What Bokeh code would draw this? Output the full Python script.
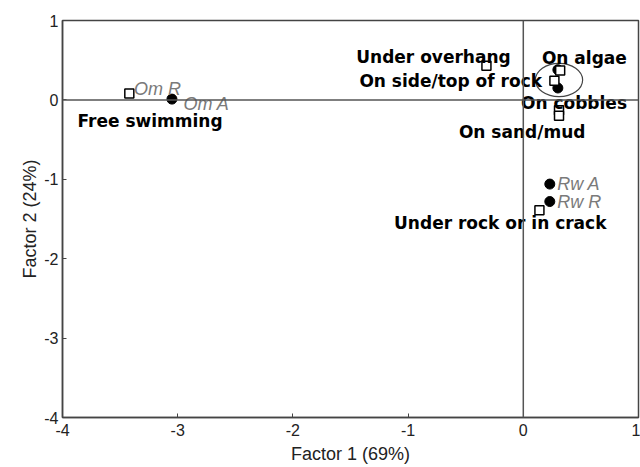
from bokeh.plotting import figure
from bokeh.models import Span, FixedTicker, ColumnDataSource
from bokeh.embed import file_html
from bokeh.resources import INLINE
from bokeh.core.properties import value

# Habitat categories (open squares)
habitats = ["Free swimming", "Under overhang", "On algae", "On side/top of rock",
            "On cobbles", "On sand/mud", "Under rock or in crack"]
hab_x = [-3.42, -0.32, 0.32, 0.27, 0.31, 0.31, 0.14]
hab_y = [0.08, 0.43, 0.37, 0.24, -0.13, -0.20, -1.39]

# Habitat label anchors (centre of text)
hab_lab_x = [-3.24, -0.78, 0.53, -0.63, 0.44, -0.01, -0.20]
hab_lab_y = [-0.26, 0.54, 0.53, 0.24, -0.04, -0.40, -1.55]

# Fish groups (filled circles)
fish_x = [-3.05, 0.23, 0.23, 0.30, 0.30]
fish_y = [0.01, -1.06, -1.28, 0.38, 0.15]

# Fish labels
fish_names = ["Om R", "Om A", "Rw A", "Rw R"]
fish_lab_x = [-3.38, -2.95, 0.295, 0.295]
fish_lab_y = [0.14, -0.05, -1.06, -1.28]

# Ellipse grouping
ell_x, ell_y, ell_w, ell_h = 0.31, 0.25, 0.41, 0.42

x_ticks = [-4, -3, -2, -1, 0, 1]
y_ticks = [1, 0, -1, -2, -3, -4]

p = figure(width=640, height=467, x_range=(-4, 1), y_range=(-4, 1),
           output_backend="svg", toolbar_location=None,
           min_border_left=62, min_border_right=2, min_border_top=20, min_border_bottom=50)
p.grid.visible = False
p.outline_line_color = "#444444"
p.outline_line_width = 1.5
p.background_fill_color = "white"
p.border_fill_color = "white"

for ax in (p.xaxis[0], p.yaxis[0]):
    ax.axis_line_color = "#444444"
    ax.axis_line_width = 1.5
    ax.major_tick_in = 4
    ax.major_tick_out = 0
    ax.minor_tick_line_color = None
    ax.major_tick_line_color = "#444444"
    ax.major_label_text_font = "Liberation Sans"
    ax.major_label_text_font_size = "16px"
    ax.major_label_text_color = "#222222"
    ax.axis_label_text_font = "Liberation Sans"
    ax.axis_label_text_font_size = "18px"
    ax.axis_label_text_font_style = "normal"
    ax.axis_label_text_color = "#222222"

p.xaxis[0].ticker = FixedTicker(ticks=x_ticks)
p.yaxis[0].ticker = FixedTicker(ticks=y_ticks)
p.xaxis[0].major_label_overrides = {t: str(t) for t in x_ticks}
p.yaxis[0].major_label_overrides = {t: str(t) for t in y_ticks}
p.xaxis[0].axis_label = "Factor 1 (69%)"
p.yaxis[0].axis_label = "Factor 2 (24%)"
p.xaxis[0].major_label_standoff = 6
p.xaxis[0].axis_label_standoff = 5
p.yaxis[0].major_label_standoff = 4
p.yaxis[0].axis_label_standoff = 1

p.add_layout(Span(location=0, dimension="width", line_color="#555555", line_width=1.5))
p.add_layout(Span(location=0, dimension="height", line_color="#555555", line_width=1.5))

p.ellipse(x=[ell_x], y=[ell_y], width=[ell_w], height=[ell_h],
          fill_color=None, line_color="#444444", line_width=1.2)

p.scatter(fish_x, fish_y, marker="circle", size=10, fill_color="black", line_color="black")
p.scatter(hab_x, hab_y, marker="square", size=9, fill_color="white", line_color="black",
          line_width=1.5)

src_h = ColumnDataSource(dict(x=hab_lab_x, y=hab_lab_y, t=habitats))
p.text(x="x", y="y", text="t", source=src_h, text_font=value("DejaVu Sans"),
       text_font_style="bold", text_font_size="17px", text_color="black",
       text_align="center", text_baseline="middle")

src_f = ColumnDataSource(dict(x=fish_lab_x, y=fish_lab_y, t=fish_names))
p.text(x="x", y="y", text="t", source=src_f, text_font=value("Liberation Sans"),
       text_font_style="italic", text_font_size="18px", text_color="#7a7a7a",
       text_align="left", text_baseline="middle")

open("out.html", "w").write(file_html(p, INLINE))
